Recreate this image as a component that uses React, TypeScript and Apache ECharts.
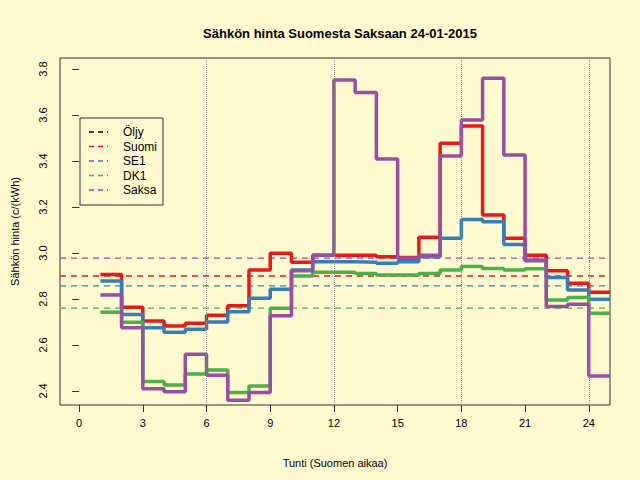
import { useEffect, useRef } from "react"
import * as echarts from "echarts"

const hours = [1, 2, 3, 4, 5, 6, 7, 8, 9, 10, 11, 12, 13, 14, 15, 16, 17, 18, 19, 20, 21, 22, 23, 24]
const suomi = [2.907, 2.764, 2.704, 2.683, 2.694, 2.729, 2.771, 2.926, 2.999, 2.96, 2.99, 2.99, 2.99, 2.984, 2.98, 3.068, 3.477, 3.552, 3.165, 3.064, 2.99, 2.923, 2.868, 2.829]
const se1 = [2.878, 2.733, 2.675, 2.655, 2.668, 2.7, 2.745, 2.803, 2.842, 2.926, 2.962, 2.962, 2.96, 2.955, 2.962, 2.984, 3.064, 3.146, 3.136, 3.037, 2.966, 2.894, 2.839, 2.799]
const dk1 = [2.742, 2.699, 2.441, 2.426, 2.474, 2.491, 2.393, 2.422, 2.76, 2.9, 2.916, 2.916, 2.911, 2.904, 2.904, 2.911, 2.926, 2.941, 2.933, 2.926, 2.932, 2.796, 2.807, 2.738]
const saksa = [2.817, 2.675, 2.41, 2.397, 2.56, 2.468, 2.36, 2.393, 2.727, 2.923, 2.99, 3.752, 3.698, 3.409, 2.977, 2.99, 3.422, 3.578, 3.76, 3.426, 2.97, 2.767, 2.777, 2.465]
const averages = { suomi: 2.9, se1: 2.857, dk1: 2.76, saksa: 2.978 }
const legendNames = ["Öljy", "Suomi", "SE1", "DK1", "Saksa"]
const legendColors = ["#000000", "#e41a1c", "#377eb8", "#4daf4a", "#984ea3"]
const xTicks = [0, 3, 6, 9, 12, 15, 18, 21, 24]
const yTicks = [2.4, 2.6, 2.8, 3.0, 3.2, 3.4, 3.6, 3.8]
const vLines = [6, 12, 18, 24]

const steps = (vals: number[]) => [...hours.map((h, i) => [h, vals[i]]), [25, vals[vals.length - 1]]]

export default function App() {
  const ref = useRef<HTMLDivElement>(null)
  useEffect(() => {
    document.body.style.margin = "0"
    if (!ref.current) return
    const chart = echarts.init(ref.current, null, { renderer: "svg" })
    const font = "Liberation Sans, Arial, sans-serif"
    const stepSeries = (name: string, vals: number[], color: string) => ({
      name, type: "line", step: "end", data: steps(vals), symbol: "none",
      lineStyle: { width: 3.5, color }, z: 3,
    })
    const avgSeries = (name: string, v: number, color: string) => ({
      name: name + "avg", type: "line", data: [[-0.9, v], [25, v]], symbol: "none",
      lineStyle: { width: 1.3, color, type: [6, 5] }, z: 2,
    })
    const legendItems: any[] = []
    legendNames.forEach((n, i) => {
      const y = 132 + i * 14.5
      legendItems.push({ type: "line", shape: { x1: 89, y1: y, x2: 108, y2: y }, style: { stroke: legendColors[i], lineWidth: 1.3, lineDash: [5, 4] } })
      legendItems.push({ type: "text", x: 123, y, style: { text: n, fill: "#000", font: `12px ${font}`, verticalAlign: "middle" } })
    })
    chart.setOption({
      animation: false,
      backgroundColor: "#fffad0",
      textStyle: { fontFamily: font },
      title: { text: "Sähkön hinta Suomesta Saksaan 24-01-2015", left: 335, top: 22, textAlign: "center", textStyle: { fontSize: 13, fontWeight: "bold", color: "#000" } },
      grid: { left: 60, right: 30, top: 58, bottom: 75, show: true, borderColor: "#333", borderWidth: 1 },
      xAxis: {
        type: "value", min: -0.9, max: 25,
        name: "Tunti (Suomen aikaa)", nameLocation: "middle", nameGap: 52, nameTextStyle: { fontSize: 11, color: "#000" },
        axisLine: { show: false }, splitLine: { show: false },
        axisTick: { customValues: xTicks, length: 7, lineStyle: { color: "#333" } },
        axisLabel: { customValues: xTicks, color: "#000", fontSize: 11, margin: 12 },
      },
      yAxis: {
        type: "value", min: 2.339, max: 3.848,
        name: "Sähkön hinta (c/(kWh)", nameLocation: "middle", nameGap: 40, nameTextStyle: { fontSize: 11, color: "#000" },
        axisLine: { show: false }, splitLine: { show: false },
        axisTick: { customValues: yTicks, length: 7, lineStyle: { color: "#333" } },
        axisLabel: { customValues: yTicks, color: "#000", fontSize: 11, rotate: 90, margin: 12, formatter: (v: number) => v.toFixed(1) },
      },
      series: [
        {
          type: "line", data: [], symbol: "none",
          markLine: { silent: true, symbol: "none", label: { show: false }, lineStyle: { color: "#888", type: "dotted", width: 1 }, data: vLines.map((x) => ({ xAxis: x })) },
        },
        avgSeries("Suomi", averages.suomi, legendColors[1]),
        avgSeries("SE1", averages.se1, legendColors[2]),
        avgSeries("DK1", averages.dk1, legendColors[3]),
        avgSeries("Saksa", averages.saksa, legendColors[4]),
        stepSeries("Suomi", suomi, legendColors[1]),
        stepSeries("SE1", se1, legendColors[2]),
        stepSeries("DK1", dk1, legendColors[3]),
        stepSeries("Saksa", saksa, legendColors[4]),
      ],
      graphic: [
        { type: "rect", shape: { x: 80, y: 118, width: 83, height: 87 }, style: { fill: "none", stroke: "#333", lineWidth: 1 } },
        ...legendItems,
      ],
    })
    return () => chart.dispose()
  }, [])
  return <div ref={ref} style={{ width: 640, height: 480 }} />
}
